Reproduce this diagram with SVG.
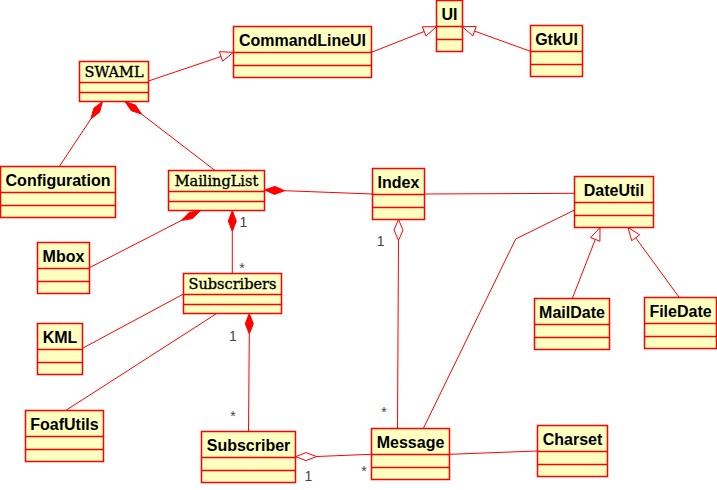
<svg xmlns="http://www.w3.org/2000/svg" width="717" height="490" viewBox="0 0 717 490">
<style>
.box{fill:#ffffc0;stroke:#ff0000;stroke-width:1.5}
.div{stroke:#ff0000;stroke-width:1.5}
.n{font-family:"Liberation Sans",Arial,sans-serif;font-weight:bold;font-size:16px;fill:#000;text-anchor:middle}
.s{font-family:"DejaVu Serif",serif;font-size:14.5px;fill:#000;stroke:#000;stroke-width:0.35;text-anchor:middle}
.c line,.c polyline{stroke:#ff0000;stroke-width:1;fill:none}
.tri{fill:#ffffff;stroke:#ff0000;stroke-width:1}
.fd{fill:#ff0000;stroke:#ff0000;stroke-width:1}
.hd{fill:#ffffff;stroke:#ff0000;stroke-width:1}
.lbl{font-family:"Liberation Sans",Arial,sans-serif;font-size:14px;fill:#444;text-anchor:middle}
</style>
<rect width="717" height="490" fill="#ffffff"/>
<g class="c" id="connectors">
<line x1="148.5" y1="81" x2="221" y2="56.5"/>
<polygon class="tri" points="233.3,52.3 222.6,61.2 219.4,51.7"/>
<line x1="371.5" y1="52.3" x2="424.2" y2="31.5"/>
<polygon class="tri" points="436.3,26.7 426,36.1 422.4,26.8"/>
<line x1="530.5" y1="51.3" x2="474.5" y2="31.1"/>
<polygon class="tri" points="462.3,26.7 472.8,35.8 476.2,26.4"/>
<line x1="90.8" y1="119" x2="59.3" y2="166.5"/>
<polygon class="fd" points="102.5,101.5 99.6,112.2 90.8,119 93.8,108.3"/>
<line x1="141.7" y1="114.2" x2="215" y2="170.5"/>
<polygon class="fd" points="125,101.5 131.3,110.7 141.7,114.2 135.5,105.1"/>
<line x1="284.7" y1="190.7" x2="372.5" y2="194"/>
<polygon class="fd" points="264.7,190 274.55,194.4 284.7,190.7 274.85,186.4"/>
<line x1="181.1" y1="220.6" x2="89.5" y2="267.7"/>
<polygon class="fd" points="200.7,210.5 192.5,218.6 181.1,220.6 189.3,212.4"/>
<line x1="232.3" y1="231.5" x2="232.3" y2="273.5"/>
<polygon class="fd" points="232.3,210.5 236.3,221 232.3,231.5 228.3,221"/>
<line x1="249.3" y1="334" x2="248.5" y2="431.5"/>
<polygon class="fd" points="249.3,313.5 253.3,323.7 249.3,334 245.3,323.7"/>
<line x1="398.5" y1="240.5" x2="397.5" y2="428.5"/>
<polygon class="hd" points="398.5,219.5 403,230 398.5,240.5 394,230"/>
<line x1="316.7" y1="456.5" x2="371.5" y2="454.3"/>
<polygon class="hd" points="295.5,456.7 306,452.6 316.7,456.5 306,460.6"/>
<line x1="424.5" y1="194" x2="574.5" y2="193.3"/>
<polyline points="574.5,210 515.7,239 423.3,428.5"/>
<line x1="183.5" y1="294" x2="82.5" y2="348.3"/>
<line x1="216.7" y1="313.5" x2="65.7" y2="410.5"/>
<line x1="449.5" y1="454.3" x2="537.5" y2="451"/>
<line x1="572.3" y1="298.5" x2="595.3" y2="239.4"/>
<polygon class="tri" points="600,227.5 599.9,241.2 590.6,237.6"/>
<line x1="679.3" y1="297.5" x2="635.7" y2="237.8"/>
<polygon class="tri" points="628,227.5 631.7,240.7 639.7,234.8"/>
<text class="lbl" x="79" y="254">1</text>
<text class="lbl" x="243.5" y="227.3">1</text>
<text class="lbl" x="242" y="273.3">*</text>
<text class="lbl" x="380.7" y="246">1</text>
<text class="lbl" x="233" y="340.7">1</text>
<text class="lbl" x="233" y="420.7">*</text>
<text class="lbl" x="308.3" y="481">1</text>
<text class="lbl" x="384" y="416.7">*</text>
<text class="lbl" x="364" y="476.3">*</text>
</g>
<g id="SWAML"><rect class="box" x="79.5" y="61.5" width="69" height="40"/><line class="div" x1="79.5" y1="82.5" x2="148.5" y2="82.5"/><line class="div" x1="79.5" y1="92.5" x2="148.5" y2="92.5"/><text class="s" x="114" y="77">SWAML</text></g>
<g id="CommandLineUI"><rect class="box" x="233.5" y="26.5" width="138" height="51"/><line class="div" x1="233.5" y1="52.5" x2="371.5" y2="52.5"/><line class="div" x1="233.5" y1="65.5" x2="371.5" y2="65.5"/><text class="n" x="302.5" y="46.3">CommandLineUI</text></g>
<g id="UI"><rect class="box" x="436.5" y="0.5" width="26" height="51"/><line class="div" x1="436.5" y1="26.5" x2="462.5" y2="26.5"/><line class="div" x1="436.5" y1="39.5" x2="462.5" y2="39.5"/><text class="n" x="449.5" y="20">UI</text></g>
<g id="GtkUI"><rect class="box" x="530.5" y="25.5" width="52" height="51"/><line class="div" x1="530.5" y1="51.5" x2="582.5" y2="51.5"/><line class="div" x1="530.5" y1="64.5" x2="582.5" y2="64.5"/><text class="n" x="556.5" y="45.3">GtkUI</text></g>
<g id="Configuration"><rect class="box" x="0.5" y="166.5" width="115" height="51"/><line class="div" x1="0.5" y1="192.5" x2="115.5" y2="192.5"/><line class="div" x1="0.5" y1="205.5" x2="115.5" y2="205.5"/><text class="n" x="58" y="186">Configuration</text></g>
<g id="MailingList"><rect class="box" x="168.5" y="170.5" width="96" height="40"/><line class="div" x1="168.5" y1="191.5" x2="264.5" y2="191.5"/><line class="div" x1="168.5" y1="201.5" x2="264.5" y2="201.5"/><text class="s" x="216.5" y="185.7">MailingList</text></g>
<g id="Index"><rect class="box" x="372.5" y="168.5" width="52" height="51"/><line class="div" x1="372.5" y1="194.5" x2="424.5" y2="194.5"/><line class="div" x1="372.5" y1="207.5" x2="424.5" y2="207.5"/><text class="n" x="398.5" y="188">Index</text></g>
<g id="DateUtil"><rect class="box" x="574.5" y="176.5" width="79" height="51"/><line class="div" x1="574.5" y1="202.5" x2="653.5" y2="202.5"/><line class="div" x1="574.5" y1="215.5" x2="653.5" y2="215.5"/><text class="n" x="614" y="196">DateUtil</text></g>
<g id="Mbox"><rect class="box" x="37.5" y="242.5" width="52" height="51"/><line class="div" x1="37.5" y1="268.5" x2="89.5" y2="268.5"/><line class="div" x1="37.5" y1="281.5" x2="89.5" y2="281.5"/><text class="n" x="63.5" y="262.3">Mbox</text></g>
<g id="Subscribers"><rect class="box" x="183.5" y="273.5" width="98" height="40"/><line class="div" x1="183.5" y1="294.5" x2="281.5" y2="294.5"/><line class="div" x1="183.5" y1="304.5" x2="281.5" y2="304.5"/><text class="s" x="232.5" y="289">Subscribers</text></g>
<g id="KML"><rect class="box" x="37.5" y="323.5" width="45" height="51"/><line class="div" x1="37.5" y1="349.5" x2="82.5" y2="349.5"/><line class="div" x1="37.5" y1="362.5" x2="82.5" y2="362.5"/><text class="n" x="60" y="343.3">KML</text></g>
<g id="MailDate"><rect class="box" x="534.5" y="298.5" width="75" height="51"/><line class="div" x1="534.5" y1="324.5" x2="609.5" y2="324.5"/><line class="div" x1="534.5" y1="337.5" x2="609.5" y2="337.5"/><text class="n" x="572" y="318.3">MailDate</text></g>
<g id="FileDate"><rect class="box" x="644.5" y="297.5" width="72" height="51"/><line class="div" x1="644.5" y1="323.5" x2="716.5" y2="323.5"/><line class="div" x1="644.5" y1="336.5" x2="716.5" y2="336.5"/><text class="n" x="680.5" y="317.3">FileDate</text></g>
<g id="FoafUtils"><rect class="box" x="25.5" y="410.5" width="78" height="51"/><line class="div" x1="25.5" y1="436.5" x2="103.5" y2="436.5"/><line class="div" x1="25.5" y1="449.5" x2="103.5" y2="449.5"/><text class="n" x="64.5" y="430.3">FoafUtils</text></g>
<g id="Subscriber"><rect class="box" x="201.5" y="431.5" width="94" height="51"/><line class="div" x1="201.5" y1="457.5" x2="295.5" y2="457.5"/><line class="div" x1="201.5" y1="470.5" x2="295.5" y2="470.5"/><text class="n" x="248.5" y="451.3">Subscriber</text></g>
<g id="Message"><rect class="box" x="371.5" y="428.5" width="78" height="51"/><line class="div" x1="371.5" y1="454.5" x2="449.5" y2="454.5"/><line class="div" x1="371.5" y1="467.5" x2="449.5" y2="467.5"/><text class="n" x="410.5" y="448.3">Message</text></g>
<g id="Charset"><rect class="box" x="537.5" y="425.5" width="70" height="51"/><line class="div" x1="537.5" y1="451.5" x2="607.5" y2="451.5"/><line class="div" x1="537.5" y1="464.5" x2="607.5" y2="464.5"/><text class="n" x="572.5" y="445.3">Charset</text></g>
</svg>
